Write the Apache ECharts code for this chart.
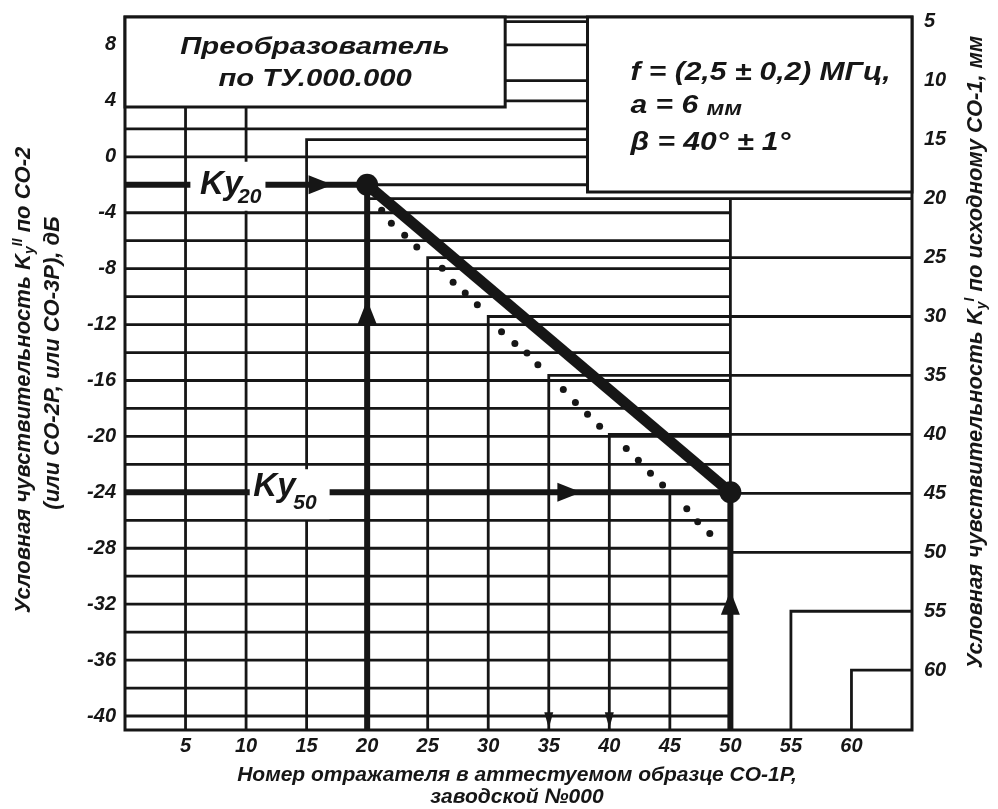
<!DOCTYPE html>
<html>
<head>
<meta charset="utf-8">
<script src="https://cdn.jsdelivr.net/npm/echarts@6/dist/echarts.min.js"></script>
<style>
  html, body { margin: 0; padding: 0; background: #fff; }
  #chart { width: 998px; height: 809px; }
</style>
</head>
<body>
<div id="chart"></div>
<script>
// x axis: reflector number in the CO-1P sample
const reflectorTicks = [5, 10, 15, 20, 25, 30, 35, 40, 45, 50, 55, 60]
// left axis, dB
const dbTicks = [-40, -36, -32, -28, -24, -20, -16, -12, -8, -4, 0, 4, 8]
// right axis, mm
const mmTicks = [5, 10, 15, 20, 25, 30, 35, 40, 45, 50, 55, 60]

// dB grid lines: upper ones run on under the boxes, the rest stop at reflector 50
const dbLinesLong = [8, 4, 2, 0, -2]
const dbLinesShort = [-4, -6, -8, -10, -12, -14, -16, -18, -20, -22, -24, -26, -28, -30, -32, -34, -36, -38, -40]
const dbGridEndReflector = 50
const dbGridTopMm = 20
// staircase: reflector N goes up to N mm, then to the right edge
const stepReflectors = [5, 10, 15, 20, 25, 30, 35, 40, 45, 50, 55, 60]

// Ky20 / Ky50 points
const keyReflector = [20, 50]
const keyDb = [-2, -24]
const keyNames = ['20', '50']

// dotted curve (reflector, mm)
const dotReflector = [21.2, 22.0, 23.1, 24.1, 26.2, 27.1, 28.1, 29.1, 31.1, 32.2, 33.2, 34.1,
  36.2, 37.2, 38.2, 39.2, 41.4, 42.4, 43.4, 44.4, 46.4, 47.3, 48.3]
const dotMm = [21.0, 22.1, 23.1, 24.1, 25.9, 27.1, 28.0, 29.0, 31.3, 32.3, 33.1, 34.1,
  36.2, 37.3, 38.3, 39.3, 41.2, 42.2, 43.3, 44.3, 46.3, 47.4, 48.4]

// arrow heads
const arrowRightReflector = [16.15, 36.7] // on the Ky lines
const arrowUpDb = [-11.1, -31.9] // on the reflector 20 / 50 verticals
const arrowDownReflector = [35, 40]
const arrowDownDb = -40.3

const X_MIN = 0
const X_MAX = 65
const DB_MIN = -41
const DB_MAX = 10
const MM_MIN = 4.6
const MM_MAX = 65.07

const INK = '#161616'
const FONT = 'Liberation Sans'

const chart = echarts.init(document.getElementById('chart'), null, { renderer: 'canvas' })

const dbGrid = dbLinesLong.map(v => ({ coords: [[X_MIN, v], [X_MAX, v]] }))
  .concat(dbLinesShort.map(v => ({ coords: [[X_MIN, v], [dbGridEndReflector, v]] })))

const steps = stepReflectors.map(n => ({ coords: [[n, MM_MAX], [n, n], [X_MAX, n]] }))
steps.push({ coords: [[dbGridEndReflector, MM_MAX], [dbGridEndReflector, dbGridTopMm]] })

const keyLines = []
keyReflector.forEach((x, i) => {
  keyLines.push({ coords: [[X_MIN, keyDb[i]], [x, keyDb[i]]] })
  keyLines.push({ coords: [[x, DB_MIN], [x, keyDb[i]]] })
})

const labelStyle = {
  fontFamily: FONT,
  fontStyle: 'italic',
  fontWeight: 'bold',
  fontSize: 20,
  color: INK
}

chart.setOption({
  animation: false,
  backgroundColor: '#fff',
  grid: {
    left: 125,
    right: 86,
    top: 17,
    bottom: 79,
    show: true,
    borderColor: INK,
    borderWidth: 3
  },
  xAxis: {
    type: 'value',
    min: X_MIN,
    max: X_MAX,
    axisLine: { show: false },
    axisTick: { show: false },
    splitLine: { show: false },
    axisLabel: Object.assign({ customValues: reflectorTicks, margin: 6 }, labelStyle)
  },
  yAxis: [
    {
      type: 'value',
      min: DB_MIN,
      max: DB_MAX,
      axisLine: { show: false },
      axisTick: { show: false },
      splitLine: { show: false },
      axisLabel: Object.assign({ customValues: dbTicks, margin: 9, padding: [4, 0, 0, 0] }, labelStyle)
    },
    {
      type: 'value',
      position: 'right',
      inverse: true,
      min: MM_MIN,
      max: MM_MAX,
      axisLine: { show: false },
      axisTick: { show: false },
      splitLine: { show: false },
      axisLabel: Object.assign({ customValues: mmTicks, margin: 12, padding: [6, 0, 0, 0] }, labelStyle)
    }
  ],
  series: [
    {
      name: 'dB grid',
      type: 'lines',
      coordinateSystem: 'cartesian2d',
      xAxisIndex: 0,
      yAxisIndex: 0,
      polyline: true,
      silent: true,
      z: 2,
      lineStyle: { color: INK, width: 2.8, opacity: 1, curveness: 0 },
      data: dbGrid
    },
    {
      name: 'steps',
      type: 'lines',
      coordinateSystem: 'cartesian2d',
      xAxisIndex: 0,
      yAxisIndex: 1,
      polyline: true,
      silent: true,
      z: 2,
      lineStyle: { color: INK, width: 2.8, opacity: 1, curveness: 0, join: 'miter' },
      data: steps
    },
    {
      name: 'Ky lines',
      type: 'lines',
      coordinateSystem: 'cartesian2d',
      xAxisIndex: 0,
      yAxisIndex: 0,
      polyline: true,
      silent: true,
      z: 4,
      lineStyle: { color: INK, width: 6, opacity: 1, curveness: 0 },
      data: keyLines
    },
    {
      name: 'dotted',
      type: 'scatter',
      xAxisIndex: 0,
      yAxisIndex: 1,
      symbol: 'circle',
      symbolSize: 7,
      z: 4,
      itemStyle: { color: INK, opacity: 1 },
      data: dotReflector.map((x, i) => [x, dotMm[i]])
    },
    {
      name: 'Ky',
      type: 'line',
      xAxisIndex: 0,
      yAxisIndex: 0,
      symbol: 'circle',
      symbolSize: 22,
      showSymbol: true,
      z: 5,
      itemStyle: { color: INK, opacity: 1 },
      lineStyle: { color: INK, width: 11 },
      data: keyReflector.map((x, i) => [x, keyDb[i]])
    },
    {
      name: 'arrows right',
      type: 'scatter',
      xAxisIndex: 0,
      yAxisIndex: 0,
      symbol: 'path://M0,0L24,9L0,18Z',
      symbolSize: [24, 19],
      z: 5,
      itemStyle: { color: INK, opacity: 1 },
      data: arrowRightReflector.map((x, i) => [x, keyDb[i]])
    },
    {
      name: 'arrows up',
      type: 'scatter',
      xAxisIndex: 0,
      yAxisIndex: 0,
      symbol: 'path://M9,0L18,24L0,24Z',
      symbolSize: [19, 24],
      z: 5,
      itemStyle: { color: INK, opacity: 1 },
      data: keyReflector.map((x, i) => [x, arrowUpDb[i]])
    },
    {
      name: 'arrows down',
      type: 'scatter',
      xAxisIndex: 0,
      yAxisIndex: 0,
      symbol: 'path://M0,0L10,0L5,16Z',
      symbolSize: [9, 16],
      z: 5,
      itemStyle: { color: INK, opacity: 1 },
      data: arrowDownReflector.map(x => [x, arrowDownDb])
    }
  ]
})

// ---- annotations (boxes, Ky labels, axis titles) ----
const px = (x, db) => chart.convertToPixel({ seriesIndex: 0 }, [x, db])

function box(x0, db0, x1, db1) {
  const a = px(x0, db0)
  const b = px(x1, db1)
  return {
    type: 'rect',
    z: 10,
    shape: { x: a[0], y: a[1], width: b[0] - a[0], height: b[1] - a[1] },
    style: { fill: '#fff', stroke: INK, lineWidth: 3 }
  }
}

const leftBox = box(X_MIN, DB_MAX, 31.4, 3.56)
const rightBox = box(38.2, DB_MAX, X_MAX, -2.52)

const boxFont = { fontFamily: FONT, fontStyle: 'italic', fontWeight: 'bold', fill: INK }
const graphics = [leftBox, rightBox]

const lbCx = leftBox.shape.x + leftBox.shape.width / 2
graphics.push({
  type: 'text', z: 11, x: lbCx, y: 47, scaleX: 1.22,
  style: Object.assign({ text: 'Преобразователь', fontSize: 24, align: 'center', verticalAlign: 'middle' }, boxFont)
})
graphics.push({
  type: 'text', z: 11, x: lbCx, y: 79, scaleX: 1.22,
  style: Object.assign({ text: 'по ТУ.000.000', fontSize: 24, align: 'center', verticalAlign: 'middle' }, boxFont)
})

const rbX = rightBox.shape.x + 43
graphics.push({
  type: 'text', z: 11, x: rbX, y: 73, scaleX: 1.2,
  style: Object.assign({ text: 'f = (2,5 ± 0,2) МГц,', fontSize: 25, align: 'left', verticalAlign: 'middle' }, boxFont)
})
graphics.push({
  type: 'text', z: 11, x: rbX, y: 106, scaleX: 1.2,
  style: {
    text: '{a|a = 6 }{b|мм}',
    align: 'left',
    verticalAlign: 'middle',
    rich: {
      a: Object.assign({ fontSize: 25, verticalAlign: 'bottom', lineHeight: 26 }, boxFont),
      b: Object.assign({ fontSize: 20, verticalAlign: 'bottom', lineHeight: 26 }, boxFont)
    }
  }
})
graphics.push({
  type: 'text', z: 11, x: rbX, y: 143, scaleX: 1.2,
  style: Object.assign({ text: 'β = 40° ± 1°', fontSize: 25, align: 'left', verticalAlign: 'middle' }, boxFont)
})

// Ky labels: white patch over the line, then "Ky" with subscript
const kyLayout = [
  { rect: [5.4, 11.6], up: 23, down: 26, text: 6.2, base: 12, subDx: 38, subBase: 20 },
  { rect: [10.3, 16.9], up: 23, down: 27, text: 10.6, base: 6, subDx: 40, subBase: 18 }
]
keyReflector.forEach((k, i) => {
  const L = kyLayout[i]
  const a = px(L.rect[0], keyDb[i])
  const b = px(L.rect[1], keyDb[i])
  graphics.push({
    type: 'rect', z: 11,
    shape: { x: a[0], y: a[1] - L.up, width: b[0] - a[0], height: L.up + L.down },
    style: { fill: '#fff' }
  })
  const t = px(L.text, keyDb[i])
  graphics.push({
    type: 'text', z: 12, x: t[0], y: t[1] + L.base - 11.5,
    style: Object.assign({ text: 'Ky', fontSize: 33, align: 'left', verticalAlign: 'middle' }, boxFont)
  })
  graphics.push({
    type: 'text', z: 12, x: t[0] + L.subDx, y: t[1] + L.subBase - 7.5,
    style: Object.assign({ text: keyNames[i], fontSize: 21, align: 'left', verticalAlign: 'middle' }, boxFont)
  })
})

// axis titles
const titleRich = {
  t: Object.assign({ fontSize: 22, lineHeight: 26, verticalAlign: 'middle' }, boxFont),
  sub: Object.assign({ fontSize: 14, lineHeight: 26, verticalAlign: 'bottom' }, boxFont),
  sup: Object.assign({ fontSize: 14, lineHeight: 26, verticalAlign: 'top' }, boxFont)
}
graphics.push({
  type: 'text', z: 11, x: 24, y: 380, rotation: Math.PI / 2,
  style: {
    text: '{t|Условная чувствительность K}{sub|y}{sup|II}{t| по СО-2}',
    align: 'center', verticalAlign: 'middle', rich: titleRich
  }
})
graphics.push({
  type: 'text', z: 11, x: 53, y: 363, rotation: Math.PI / 2,
  style: {
    text: '{t|(или СО-2Р, или СО-3Р), дБ}',
    align: 'center', verticalAlign: 'middle', rich: titleRich
  }
})
graphics.push({
  type: 'text', z: 11, x: 976, y: 352, rotation: Math.PI / 2,
  style: {
    text: '{t|Условная чувствительность K}{sub|y}{sup|I}{t| по исходному СО-1, мм}',
    align: 'center', verticalAlign: 'middle', rich: titleRich
  }
})
graphics.push({
  type: 'text', z: 11, x: 517, y: 775,
  style: Object.assign({ text: 'Номер отражателя в аттестуемом образце СО-1Р,', fontSize: 21, align: 'center', verticalAlign: 'middle' }, boxFont)
})
graphics.push({
  type: 'text', z: 11, x: 517, y: 797,
  style: Object.assign({ text: 'заводской №000', fontSize: 21, align: 'center', verticalAlign: 'middle' }, boxFont)
})

chart.setOption({ graphic: graphics })
</script>
</body>
</html>
